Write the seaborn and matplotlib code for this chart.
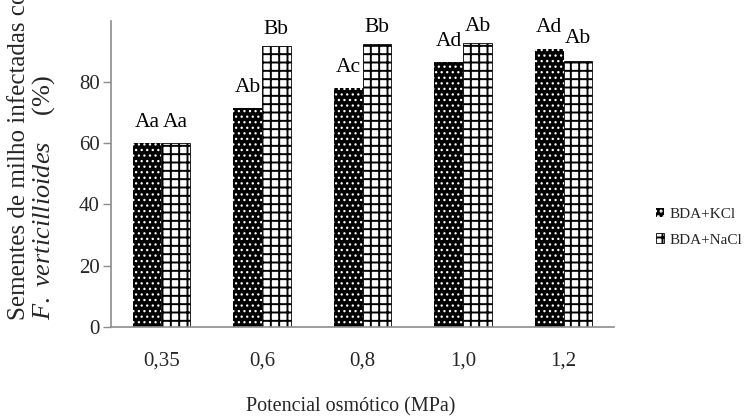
import matplotlib
matplotlib.use("Agg")
import matplotlib.pyplot as plt
import seaborn as sns
import pandas as pd
from matplotlib.patches import Patch

# ---- data ----
potenciais = ["0,35", "0,6", "0,8", "1,0", "1,2"]
kcl = [60.0, 71.5, 78.2, 86.7, 90.9]
nacl = [60.0, 91.8, 92.4, 92.7, 87.0]
letras_kcl = ["Aa", "Ab", "Ac", "Ad", "Ad"]
letras_nacl = ["Aa", "Bb", "Bb", "Ab", "Ab"]
series = ["BDA+KCl", "BDA+NaCl"]
yticks = [0, 20, 40, 60, 80]

df = pd.DataFrame({
    "Potencial": potenciais * 2,
    "Valor": kcl + nacl,
    "Meio": [series[0]] * len(kcl) + [series[1]] * len(nacl),
})

sns.set_theme(style="white")
plt.rcParams["font.family"] = ["Liberation Serif", "DejaVu Serif"]
plt.rcParams["mathtext.fontset"] = "custom"
plt.rcParams["mathtext.rm"] = "Liberation Serif"
plt.rcParams["mathtext.it"] = "Liberation Serif:italic"
plt.rcParams["hatch.linewidth"] = 1.4

fig = plt.figure(figsize=(7.56, 4.19), dpi=100)
ax = fig.add_axes([111 / 756, 1 - 326.7 / 419, (614 - 111) / 756, (326.7 - 21) / 419])

sns.barplot(data=df, x="Potencial", y="Valor", hue="Meio", order=potenciais,
            hue_order=series, palette=["black", "white"], width=0.57,
            ax=ax, legend=False, saturation=1)

styles = [
    dict(facecolor="black", edgecolor="white", hatch="...", linewidth=0),
    dict(facecolor="white", edgecolor="black", hatch="++", linewidth=0.6),
]
gap_kcl = [11.5, 11.5, 11.5, 11.5, 12.0]
gap_nacl = [11.5, 8.6, 8.6, 8.6, 12.5]
for ci, cont in enumerate(ax.containers):
    letras = letras_kcl if ci == 0 else letras_nacl
    gaps = gap_kcl if ci == 0 else gap_nacl
    for bi, bar in enumerate(cont.patches):
        bar.set_facecolor(styles[ci]["facecolor"])
        bar.set_edgecolor(styles[ci]["edgecolor"])
        bar.set_hatch(styles[ci]["hatch"])
        bar.set_linewidth(styles[ci]["linewidth"])
        if ci == 0 and hasattr(bar, "set_hatch_linewidth"):
            bar.set_hatch_linewidth(0.9)
        cx = bar.get_x() + bar.get_width() / 2
        ax.annotate(letras[bi], xy=(cx, bar.get_height()), xytext=(0, gaps[bi]),
                    textcoords="offset points", ha="center", va="baseline",
                    fontsize=15.5, color="black", annotation_clip=False)

ax.set_xlim(-0.5, 4.5)
ax.set_ylim(0, 100)
ax.set_yticks(yticks)
ax.set_yticklabels([str(v) for v in yticks], fontsize=15)
ax.set_xticks(range(len(potenciais)))
ax.set_xticklabels(potenciais, fontsize=15)
ax.tick_params(axis="x", which="major", length=0, pad=18)
ax.set_xticks([i - 0.5 for i in range(len(potenciais) + 1)], minor=True)
ax.tick_params(axis="x", which="minor", length=6, width=1, color="#8c8c8c", direction="out")
ax.tick_params(axis="y", which="major", length=6, width=1, color="#8c8c8c", direction="out", pad=2, left=True)
for s in ["top", "right"]:
    ax.spines[s].set_visible(False)
for s in ["left", "bottom"]:
    ax.spines[s].set_color("#8c8c8c")
    ax.spines[s].set_linewidth(1.2)
ax.set_xlabel("")
ax.set_ylabel("")

fig.text(351 / 756, 1 - 411 / 419, "Potencial osmótico (MPa)", ha="center", va="baseline", fontsize=14.5)
fig.text(19 / 756, 1 - 320 / 419, "Sementes de milho infectadas com", rotation=90,
         ha="center", va="bottom", fontsize=18)
fig.text(44 / 756, 1 - 320 / 419, r"$F.\ verticillioides$    (%)", rotation=90,
         ha="center", va="bottom", fontsize=19)

handles = [Patch(facecolor=styles[i]["facecolor"], edgecolor=styles[i]["edgecolor"],
                 hatch=styles[i]["hatch"], linewidth=styles[i]["linewidth"]) for i in range(2)]
fig.legend(handles, series, loc="center left", bbox_to_anchor=(642 / 756, 1 - 227 / 419),
           frameon=False, fontsize=11, handlelength=0.55, handleheight=0.55,
           handletextpad=0.35, labelspacing=0.85)

fig.savefig("out.png", dpi=100)
